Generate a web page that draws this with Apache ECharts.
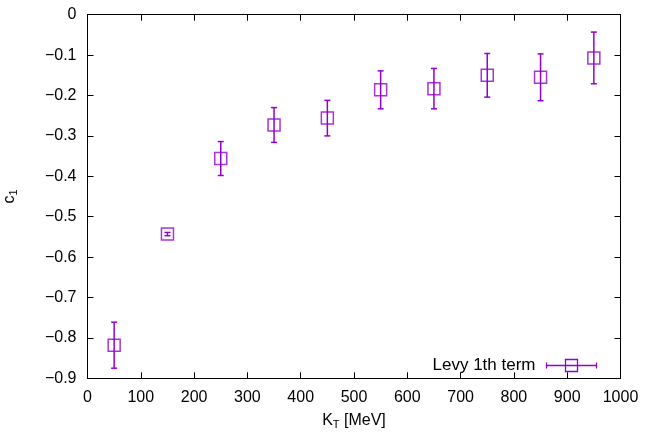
<!DOCTYPE html>
<html lang="en">
<head>
    <meta charset="UTF-8">
    <title>Levy 1th term</title>
    <style>
        * { padding: 0; margin: 0; }
        body { background: #fff; }
    </style>
    <script src="https://cdn.jsdelivr.net/npm/echarts@6/dist/echarts.min.js"></script>
</head>
<body>
    <div id="main" style="width:645px;height:432px;"></div>
    <script type="text/javascript">
    // K_T bins (MeV)
    var kt = [50, 150, 250, 350, 450, 550, 650, 750, 850, 950];
    // c_1 values
    var c1 = [-0.818, -0.543, -0.356, -0.273, -0.256, -0.186, -0.183, -0.150, -0.155, -0.107];
    // symmetric errors
    var err = [0.057, 0.004, 0.042, 0.043, 0.044, 0.047, 0.050, 0.054, 0.058, 0.064];

    var xTicks = { min: 0, max: 1000, interval: 100 };
    var yTicks = { min: -0.9, max: 0, interval: 0.1 };

    var purple = '#9400D3';
    var font = 'Liberation Sans';

    var points = kt.map(function (x, i) { return [x, c1[i]]; });
    var bars = kt.map(function (x, i) { return [x, c1[i] - err[i], c1[i] + err[i]]; });

    function fmtY(v) {
        var s = (Math.round(v * 10) / 10).toString();
        return s.replace('-', '\u2212');
    }
    function fmtX(v) {
        return String(Math.round(v));
    }

    var myChart = echarts.init(document.getElementById('main'));

    var axisCommon = {
        axisLine: { show: true, onZero: false, lineStyle: { color: '#000', width: 1 } },
        axisTick: { show: true, inside: true, length: 6, lineStyle: { color: '#000' } },
        splitLine: { show: false }
    };

    var option = {
        animation: false,
        grid: { left: 87.5, right: 24.5, top: 14.7, bottom: 53.7, outerBoundsMode: 'none', containLabel: false },
        legend: {
            right: 41,
            top: 352,
            align: 'right',
            itemWidth: 50,
            itemHeight: 12,
            textStyle: { fontFamily: font, fontSize: 17, color: '#000', padding: [0, 6, 0, 0] },
            itemStyle: { color: 'none', borderColor: purple, borderWidth: 1.3 },
            data: [{
                name: 'Levy 1th term',
                icon: 'path://M0,6L50,6M0,3L0,9M50,3L50,9M19,0L31,0L31,12L19,12Z'
            }]
        },
        xAxis: [
            Object.assign({
                type: 'value', min: xTicks.min, max: xTicks.max, interval: xTicks.interval,
                position: 'bottom',
                name: '{n|K}{s|T}{n| [MeV]}',
                nameLocation: 'middle',
                nameGap: 33,
                nameTextStyle: {
                    rich: {
                        n: { fontFamily: font, fontSize: 16, color: '#000' },
                        s: { fontFamily: font, fontSize: 11, color: '#000', verticalAlign: 'bottom', padding: [8, 0, 0, 0] }
                    }
                },
                axisLabel: { fontFamily: font, fontSize: 16, color: '#000', margin: 11, formatter: fmtX }
            }, axisCommon),
            Object.assign({
                type: 'value', min: xTicks.min, max: xTicks.max, interval: xTicks.interval,
                position: 'top',
                axisLabel: { show: false }
            }, axisCommon)
        ],
        yAxis: [
            Object.assign({
                type: 'value', min: yTicks.min, max: yTicks.max, interval: yTicks.interval,
                position: 'left',
                name: '{n|c}{s|1}',
                nameLocation: 'middle',
                nameGap: 68,
                nameRotate: 90,
                nameTextStyle: {
                    rich: {
                        n: { fontFamily: font, fontSize: 16, color: '#000' },
                        s: { fontFamily: font, fontSize: 11, color: '#000', verticalAlign: 'bottom', padding: [8, 0, 0, 0] }
                    }
                },
                axisLabel: { fontFamily: font, fontSize: 16, color: '#000', margin: 11, formatter: fmtY }
            }, axisCommon),
            Object.assign({
                type: 'value', min: yTicks.min, max: yTicks.max, interval: yTicks.interval,
                position: 'right',
                axisLabel: { show: false }
            }, axisCommon)
        ],
        series: [
            {
                name: 'Levy 1th term',
                type: 'custom',
                xAxisIndex: 0,
                yAxisIndex: 0,
                data: bars,
                renderItem: function (params, api) {
                    var lo = api.coord([api.value(0), api.value(1)]);
                    var hi = api.coord([api.value(0), api.value(2)]);
                    var st = { stroke: purple, lineWidth: 1.5 };
                    return {
                        type: 'group',
                        children: [
                            { type: 'line', shape: { x1: lo[0], y1: lo[1], x2: hi[0], y2: hi[1] }, style: st },
                            { type: 'line', shape: { x1: lo[0] - 3, y1: lo[1], x2: lo[0] + 3, y2: lo[1] }, style: st },
                            { type: 'line', shape: { x1: hi[0] - 3, y1: hi[1], x2: hi[0] + 3, y2: hi[1] }, style: st }
                        ]
                    };
                },
                z: 2
            },
            {
                name: 'Levy 1th term',
                type: 'scatter',
                xAxisIndex: 0,
                yAxisIndex: 0,
                symbol: 'rect',
                symbolSize: 12,
                itemStyle: { color: 'rgba(255,255,255,0)', borderColor: purple, borderWidth: 1.5 },
                data: points,
                z: 3
            }
        ]
    };

    myChart.setOption(option);
    </script>
</body>
</html>
